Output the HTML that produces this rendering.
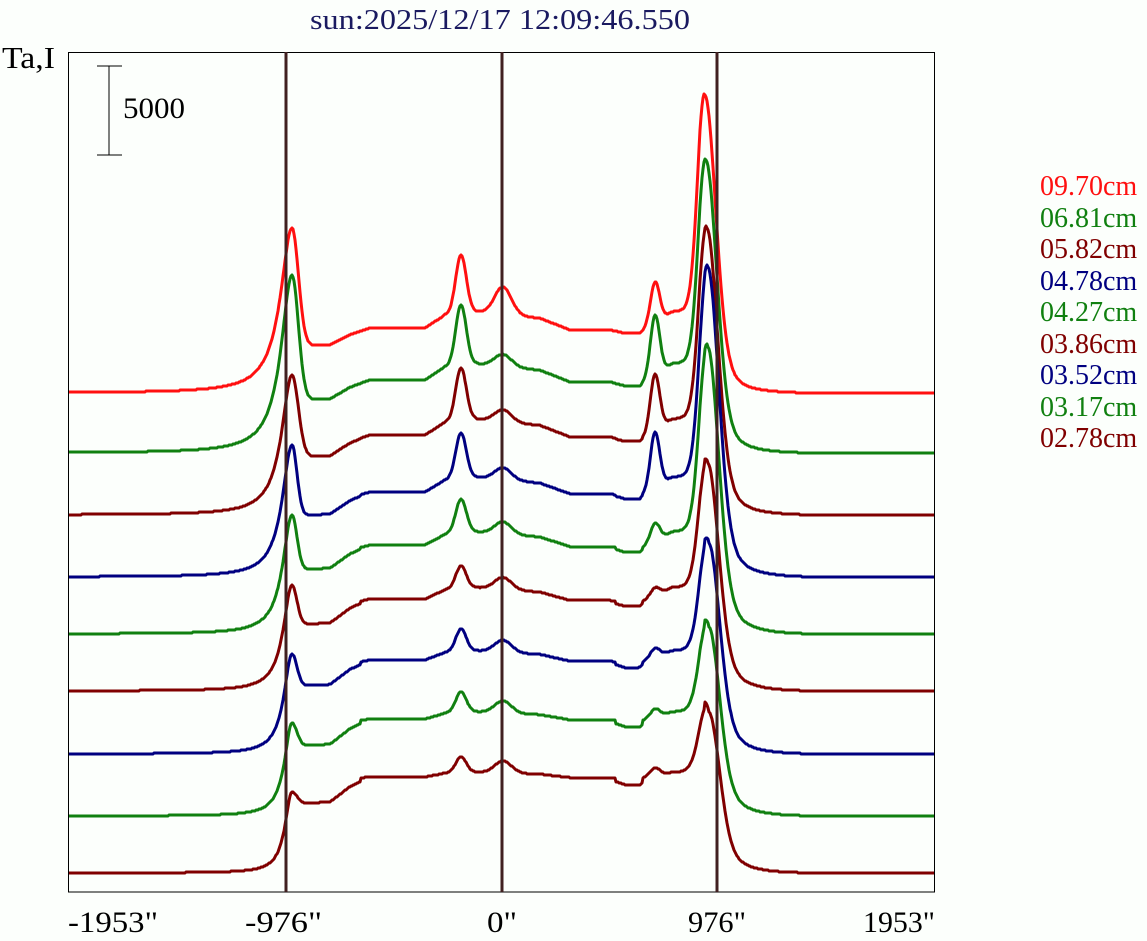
<!DOCTYPE html>
<html><head><meta charset="utf-8"><style>
html,body{margin:0;padding:0;background:#fcfffc;width:1147px;height:941px;overflow:hidden}
svg{display:block}
text{font-family:"Liberation Serif",serif}
</style></head><body>
<svg id="s" width="1147" height="941" viewBox="0 0 1147 941" xmlns="http://www.w3.org/2000/svg">
<rect x="0" y="0" width="1147" height="941" fill="#fcfffc"/>
<text x="310" y="29" font-size="29" fill="#1a1a60" textLength="380" lengthAdjust="spacingAndGlyphs">sun:2025/12/17 12:09:46.550</text>
<text x="2" y="68" font-size="31" fill="#000" textLength="53" lengthAdjust="spacingAndGlyphs">Ta,I</text>
<rect x="68.5" y="52.5" width="866" height="839.5" fill="none" stroke="#000" stroke-width="1"/>
<line x1="109" y1="66" x2="109" y2="155" stroke="#000"/>
<line x1="97" y1="66" x2="122" y2="66" stroke="#000"/>
<line x1="97" y1="155" x2="122" y2="155" stroke="#000"/>
<text x="123" y="118" font-size="30" fill="#000" textLength="62" lengthAdjust="spacingAndGlyphs">5000</text>
<g id="curves"></g>
<line x1="286" y1="52" x2="286" y2="892" stroke="#402020" stroke-width="3"/>
<line x1="502" y1="52" x2="502" y2="892" stroke="#402020" stroke-width="3"/>
<line x1="717" y1="52" x2="717" y2="892" stroke="#402020" stroke-width="3"/>
<g font-size="30" fill="#000">
<text x="68" y="932" textLength="90" lengthAdjust="spacingAndGlyphs">-1953"</text>
<text x="245" y="932" textLength="77" lengthAdjust="spacingAndGlyphs">-976"</text>
<text x="487" y="932" textLength="30" lengthAdjust="spacingAndGlyphs">0"</text>
<text x="688" y="932" textLength="58" lengthAdjust="spacingAndGlyphs">976"</text>
<text x="863" y="932" textLength="72" lengthAdjust="spacingAndGlyphs">1953"</text>
</g>
<g font-size="28">
<text x="1040" y="195" fill="#ff1010">09.70cm</text>
<text x="1040" y="227" fill="#108010">06.81cm</text>
<text x="1040" y="258" fill="#800000">05.82cm</text>
<text x="1040" y="290" fill="#000080">04.78cm</text>
<text x="1040" y="321" fill="#108010">04.27cm</text>
<text x="1040" y="353" fill="#800000">03.86cm</text>
<text x="1040" y="384" fill="#000080">03.52cm</text>
<text x="1040" y="416" fill="#108010">03.17cm</text>
<text x="1040" y="447" fill="#800000">02.78cm</text>
</g>
</svg>
<script>
(function(){
var ch=[
 [393,"#ff1010",165,138,111,298,65,292,705],
 [453,"#108010",178,148,138,293,73,292,706],
 [515,"#800000",140,147,141,287,80,292,707],
 [577,"#000080",132,144,145,310,85,292,708],
 [634,"#108010",119,135,111,287,89,292,708],
 [691,"#800000",106,125,103,228,92,292,708],
 [754,"#000080",100,125,106,211,94,292,709],
 [816,"#108010",93,124,106,189,97,292,709],
 [873,"#800000",81,116,100,161,96,292,709]];
var pp=[[292,.72],[330,.74],[350,.9],[370,1.0],[425,1.0],[445,1.2],[475,1.25],[540,1.15],[570,.97],[610,.97],[625,.92],[640,.92],[672,1.25],[700,1.3],[717,.5],[725,0]];
function fr(x){
  if(x<292||x>725)return 0;
  for(var i=0;i<pp.length-1;i++){
    var a=pp[i],b=pp[i+1];
    if(x>=a[0]&&x<=b[0])return a[1]+(b[1]-a[1])*(x-a[0])/(b[0]-a[0]);
  }
  return 0;
}
function G(x,c,s){return Math.exp(-Math.pow((x-c)/s,2));}
var out="";
for(var k=0;k<ch.length;k++){
  var c=ch[k];
  var base=c[0],L=c[2],M=c[3],S=c[4],R=c[5],P=c[6],xl=c[7],xr=c[8];
  var sl=1-k*0.1;
  var pv=function(x){var f=fr(x);if(f>0.95&&x<705)f=1+(f-1)*sl;return P*f;};
  var w=14-k*0.7;
  var pts=[];
  for(var x=69;x<=934;x++){
    var h;
    var d=x-xl, e=x-xr;
    if(d<0){
      h=L/(1+(d/w)*(d/w));
    }else if(e<0){
      h=pv(x);
      h+=(L-pv(xl))*G(x,xl,7+(k<3?2:0));
      h+=Math.max(M-pv(461),10)*G(x,461,7.5);
      var ab=(k==0)?Math.max(106-pv(503),5):12;
      h+=ab*G(x,503,12);
      h+=Math.max(S-pv(655),8)*G(x,655,6.5);
      h+=(R-pv(xr))*G(x,xr,10+k*0.3);
    }else{
      var wt=0.25+k*0.02;
      var r=R*((1-wt)*G(x,xr,15)+wt/(1+(e/18)*(e/18))*Math.max(0,1-e/110));
      h=r;
    }
    pts.push(x+","+Math.round(base-h));
  }
  out+='<polyline fill="none" stroke="'+c[1]+'" stroke-width="3" stroke-linejoin="round" points="'+pts.join(" ")+'"/>';
}
document.getElementById("curves").innerHTML=out;
})();
</script>
</body></html>
